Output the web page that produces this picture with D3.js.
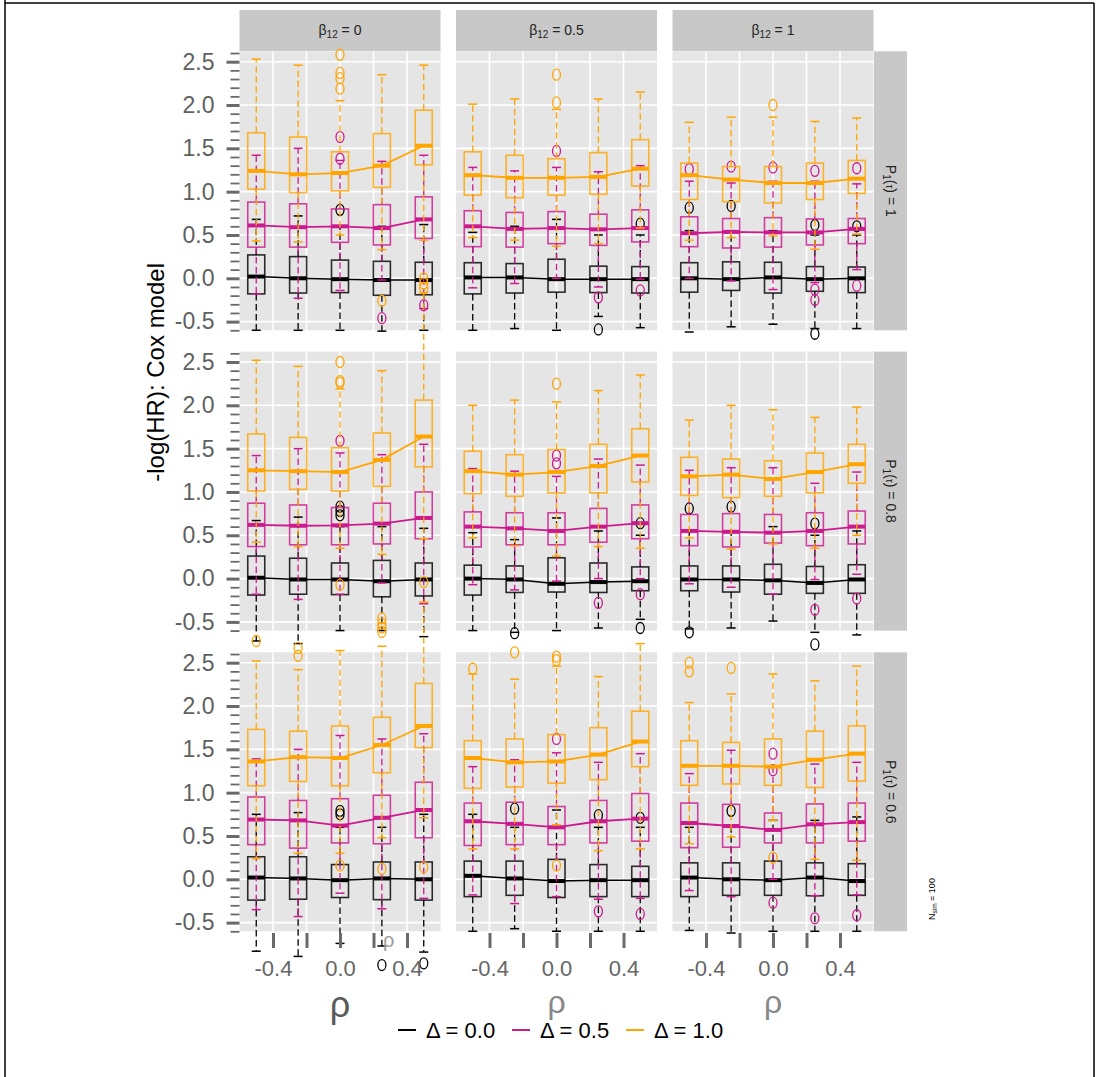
<!DOCTYPE html>
<html><head><meta charset="utf-8">
<script src="https://cdn.jsdelivr.net/npm/d3@7/dist/d3.min.js"></script>
<style>body{margin:0;background:#fff}</style>
</head><body>
<svg id="chart" width="1099" height="1077" xmlns="http://www.w3.org/2000/svg"></svg>
<script>
// ---------------- data ----------------
const betaLabels = ["0", "0.5", "1"];          // columns: beta_12
const pLabels = ["1", "0.8", "0.6"];            // rows: P1(tau)
const rhoValues = [-0.5, -0.25, 0, 0.25, 0.5];
const deltaValues = [0, 0.5, 1];
const deltaLabels = ["0.0", "0.5", "1.0"];
const xTickValues = [-0.4, -0.2, 0, 0.2, 0.4];
const xTickLabels = ["-0.4", "", "0.0", "", "0.4"];
const yTickValues = [-0.5, 0, 0.5, 1, 1.5, 2, 2.5];
const yTickLabels = ["-0.5", "0.0", "0.5", "1.0", "1.5", "2.0", "2.5"];
const yMinorTickValues = [-0.6,-0.4,-0.3,-0.2,-0.1,0.1,0.2,0.3,0.4,0.6,0.7,0.8,0.9,1.1,1.2,1.3,1.4,1.6,1.7,1.8,1.9,2.1,2.2,2.3,2.4,2.6];
const nSim = 100;

// box statistics: [delta, rho, lowerWhisker, Q1, median, Q3, upperWhisker]
const stats_P1_b0 = [
  [0,-0.5,-0.6,-0.18,0.02,0.27,0.68],[0,-0.25,-0.6,-0.17,0.0,0.25,0.72],[0,0,-0.6,-0.165,-0.01,0.21,0.6],[0,0.25,-0.61,-0.196,-0.02,0.196,0.6],[0,0.5,-0.6,-0.19,-0.02,0.185,0.62],
  [0.5,-0.5,-0.18,0.36,0.61,0.88,1.42],[0.5,-0.25,-0.23,0.36,0.59,0.86,1.5],[0.5,0,-0.14,0.415,0.6,0.8,1.36],[0.5,0.25,-0.02,0.385,0.58,0.85,1.35],[0.5,0.5,-0.35,0.46,0.68,0.94,1.42],
  [1,-0.5,0.43,1.03,1.24,1.68,2.53],[1,-0.25,0.42,0.99,1.2,1.63,2.46],[1,0,0.5,1.01,1.215,1.46,2.05],[1,0.25,0.33,1.05,1.3,1.67,2.35],[1,0.5,0.44,1.31,1.53,1.94,2.46]
];
const stats_P1_b05 = [
  [0,-0.5,-0.6,-0.18,0.01,0.18,0.53],[0,-0.25,-0.58,-0.17,0.01,0.17,0.6],[0,0,-0.6,-0.16,-0.01,0.22,0.68],[0,0.25,-0.44,-0.165,-0.01,0.14,0.5],[0,0.5,-0.57,-0.17,-0.01,0.135,0.5],
  [0.5,-0.5,-0.11,0.365,0.6,0.78,1.28],[0.5,-0.25,-0.06,0.36,0.57,0.76,1.24],[0.5,0,0.0,0.4,0.58,0.77,1.28],[0.5,0.25,-0.1,0.38,0.565,0.74,1.23],[0.5,0.5,-0.01,0.42,0.58,0.79,1.3],
  [1,-0.5,0.47,0.96,1.19,1.46,2.01],[1,-0.25,0.44,0.93,1.16,1.42,2.07],[1,0,0.37,0.96,1.16,1.38,1.95],[1,0.25,0.4,0.97,1.17,1.45,2.07],[1,0.5,0.58,1.065,1.265,1.6,2.15]
];
const stats_P1_b1 = [
  [0,-0.5,-0.62,-0.16,0.0,0.18,0.55],[0,-0.25,-0.56,-0.14,-0.01,0.19,0.55],[0,0,-0.53,-0.17,0.01,0.185,0.55],[0,0.25,-0.58,-0.15,-0.01,0.135,0.5],[0,0.5,-0.58,-0.165,0.0,0.13,0.5],
  [0.5,-0.5,0.0,0.365,0.52,0.71,1.12],[0.5,-0.25,-0.03,0.35,0.535,0.69,1.1],[0.5,0,-0.13,0.36,0.53,0.7,1.12],[0.5,0.25,-0.05,0.385,0.53,0.685,1.12],[0.5,0.5,0.1,0.4,0.57,0.69,1.09],
  [1,-0.5,0.44,0.91,1.19,1.33,1.8],[1,-0.25,0.47,0.885,1.14,1.29,1.86],[1,0,0.49,0.87,1.1,1.29,1.86],[1,0.25,0.335,0.91,1.1,1.33,1.81],[1,0.5,0.51,0.98,1.15,1.36,1.85]
];
const stats_P08_b0 = [
  [0,-0.5,-0.72,-0.19,0.01,0.26,0.67],[0,-0.25,-0.75,-0.18,-0.01,0.235,0.71],[0,0,-0.6,-0.185,-0.01,0.18,0.6],[0,0.25,-0.6,-0.21,-0.03,0.21,0.6],[0,0.5,-0.67,-0.2,-0.01,0.18,0.58],
  [0.5,-0.5,-0.18,0.37,0.62,0.87,1.42],[0.5,-0.25,-0.24,0.39,0.61,0.85,1.5],[0.5,0,-0.18,0.39,0.615,0.82,1.45],[0.5,0.25,-0.05,0.4,0.635,0.87,1.43],[0.5,0.5,-0.29,0.46,0.7,1.0,1.55],
  [1,-0.5,0.42,1.01,1.25,1.67,2.52],[1,-0.25,0.37,1.03,1.24,1.63,2.45],[1,0,0.35,1.01,1.23,1.51,2.19],[1,0.25,0.28,1.065,1.37,1.68,2.4],[1,0.5,0.46,1.29,1.64,2.06,3.3]
];
const stats_P08_b05 = [
  [0,-0.5,-0.6,-0.19,0.0,0.155,0.53],[0,-0.25,-0.62,-0.16,-0.01,0.146,0.45],[0,0,-0.6,-0.155,-0.06,0.24,0.7],[0,0.25,-0.57,-0.16,-0.04,0.18,0.55],[0,0.5,-0.47,-0.14,-0.03,0.135,0.5],
  [0.5,-0.5,-0.07,0.365,0.6,0.77,1.27],[0.5,-0.25,-0.13,0.39,0.58,0.76,1.24],[0.5,0,-0.03,0.39,0.55,0.76,1.18],[0.5,0.25,0.0,0.42,0.6,0.81,1.38],[0.5,0.5,0.0,0.46,0.64,0.85,1.31],
  [1,-0.5,0.47,0.98,1.24,1.47,2.0],[1,-0.25,0.38,0.95,1.2,1.43,2.06],[1,0,0.26,0.99,1.23,1.49,2.04],[1,0.25,0.37,0.99,1.3,1.55,2.17],[1,0.5,0.35,1.115,1.42,1.73,2.35]
];
const stats_P08_b1 = [
  [0,-0.5,-0.58,-0.14,-0.01,0.146,0.55],[0,-0.25,-0.57,-0.155,-0.01,0.146,0.55],[0,0,-0.49,-0.18,-0.02,0.165,0.6],[0,0.25,-0.62,-0.17,-0.05,0.14,0.5],[0,0.5,-0.65,-0.17,-0.01,0.16,0.55],
  [0.5,-0.5,-0.06,0.38,0.55,0.74,1.25],[0.5,-0.25,-0.1,0.365,0.54,0.75,1.28],[0.5,0,-0.18,0.41,0.53,0.74,1.28],[0.5,0.25,-0.01,0.38,0.55,0.76,1.1],[0.5,0.5,0.05,0.4,0.6,0.78,1.23],
  [1,-0.5,0.47,0.96,1.18,1.4,1.83],[1,-0.25,0.34,0.935,1.2,1.38,2.0],[1,0,0.4,0.95,1.15,1.36,1.95],[1,0.25,0.35,0.99,1.23,1.45,1.86],[1,0.5,0.5,1.1,1.32,1.55,1.98]
];
const stats_P06_b0 = [
  [0,-0.5,-0.83,-0.24,0.02,0.26,0.75],[0,-0.25,-0.89,-0.23,0.01,0.26,0.77],[0,0,-0.74,-0.21,-0.01,0.17,0.6],[0,0.25,-0.77,-0.235,0.01,0.2,0.6],[0,0.5,-0.84,-0.24,0.0,0.2,0.75],
  [0.5,-0.5,-0.35,0.4,0.69,0.95,1.39],[0.5,-0.25,-0.43,0.36,0.68,0.91,1.5],[0.5,0,-0.16,0.42,0.62,0.93,1.66],[0.5,0.25,-0.34,0.41,0.71,0.97,1.62],[0.5,0.5,-0.22,0.48,0.8,1.12,1.68],
  [1,-0.5,0.24,1.08,1.36,1.73,2.52],[1,-0.25,0.3,1.13,1.41,1.71,2.42],[1,0,0.3,1.08,1.4,1.77,2.64],[1,0.25,0.48,1.23,1.55,1.87,2.69],[1,0.5,0.71,1.52,1.77,2.26,3.2]
];
const stats_P06_b05 = [
  [0,-0.5,-0.6,-0.2,0.04,0.21,0.75],[0,-0.25,-0.57,-0.185,0.01,0.21,0.6],[0,0,-0.6,-0.21,-0.02,0.23,0.8],[0,0.25,-0.6,-0.2,-0.01,0.17,0.6],[0,0.5,-0.6,-0.2,-0.01,0.15,0.6],
  [0.5,-0.5,-0.18,0.39,0.67,0.88,1.3],[0.5,-0.25,-0.28,0.4,0.64,0.89,1.38],[0.5,0,-0.2,0.4,0.6,0.84,1.46],[0.5,0.25,-0.23,0.42,0.67,0.91,1.35],[0.5,0.5,-0.22,0.44,0.7,0.99,1.45],
  [1,-0.5,0.35,1.05,1.4,1.6,2.37],[1,-0.25,0.35,1.065,1.35,1.62,2.31],[1,0,0.63,1.11,1.36,1.67,2.46],[1,0.25,0.33,1.15,1.44,1.75,2.34],[1,0.5,0.35,1.3,1.59,1.94,2.72]
];
const stats_P06_b1 = [
  [0,-0.5,-0.59,-0.2,0.02,0.19,0.6],[0,-0.25,-0.62,-0.185,0.0,0.19,0.6],[0,0,-0.6,-0.185,-0.01,0.21,0.68],[0,0.25,-0.6,-0.19,0.02,0.19,0.68],[0,0.5,-0.6,-0.185,-0.02,0.18,0.72],
  [0.5,-0.5,-0.13,0.365,0.65,0.88,1.22],[0.5,-0.25,-0.2,0.37,0.615,0.865,1.49],[0.5,0,0.0,0.42,0.57,0.765,1.31],[0.5,0.25,-0.19,0.42,0.635,0.87,1.33],[0.5,0.5,-0.18,0.44,0.66,0.88,1.35],
  [1,-0.5,0.41,1.085,1.31,1.6,2.04],[1,-0.25,0.49,1.1,1.31,1.58,2.14],[1,0,0.68,1.085,1.3,1.62,2.37],[1,0.25,0.23,1.06,1.38,1.71,2.29],[1,0.5,0.22,1.135,1.45,1.77,2.46]
];

// outliers: [delta, rho, value]
const out_P1_b0 = [[0,0,0.79],[0.5,0,1.63],[0.5,0,1.38],[0.5,0.25,-0.46],[0.5,0.5,-0.31],[1,0,2.58],[1,0,2.37],[1,0,2.31],[1,0,2.19],[1,0.25,-0.26],[1,0.5,0.0],[1,0.5,-0.06],[1,0.5,-0.115]];
const out_P1_b05 = [[0,0.25,-0.59],[0,0.5,0.63],[0.5,0,1.47],[0.5,0.25,-0.22],[0.5,0.5,-0.14],[1,0,2.35],[1,0,2.03]];
const out_P1_b1 = [[0,-0.5,0.815],[0,-0.25,0.835],[0,0.25,0.615],[0,0.25,-0.64],[0,0.5,0.6],[0.5,-0.5,1.26],[0.5,-0.25,1.29],[0.5,0,1.28],[0.5,0.25,1.24],[0.5,0.25,-0.13],[0.5,0.25,-0.25],[0.5,0.5,1.27],[0.5,0.5,-0.085],[1,0,2.0]];
const out_P08_b0 = [[0,0,0.83],[0,0,0.78],[0,0,0.73],[0.5,0,1.59],[1,-0.5,-0.72],[1,0,2.5],[1,0,2.28],[1,0,2.26],[1,0,-0.07],[1,0.25,-0.46],[1,0.25,-0.52],[1,0.25,-0.565],[1,0.25,-0.615],[1,0.5,-0.04]];
const out_P08_b05 = [[0,-0.25,-0.63],[0,0.5,0.64],[0,0.5,-0.57],[0.5,0,1.42],[0.5,0,1.33],[0.5,0.25,-0.28],[0.5,0.5,-0.18],[1,0,2.25]];
const out_P08_b1 = [[0,-0.5,0.81],[0,-0.5,-0.62],[0,-0.25,0.83],[0,0.25,0.635],[0,0.25,-0.76],[0.5,0.25,-0.36],[0.5,0.5,-0.23]];
const out_P06_b0 = [[0,0,0.79],[0,0,0.75],[0,0.25,-0.99],[0,0.5,-0.97],[1,-0.25,2.67],[1,-0.25,2.58],[1,0,0.16],[1,0.25,0.12],[1,0.5,0.14]];
const out_P06_b05 = [[0,-0.25,0.815],[0,0.25,0.74],[0,0.5,0.71],[0.5,0,1.62],[0.5,0.25,-0.37],[0.5,0.5,-0.4],[1,-0.5,2.43],[1,-0.25,2.62],[1,0,2.57],[1,0,2.53],[1,0,0.16]];
const out_P06_b1 = [[0,-0.25,0.79],[0.5,0,1.45],[0.5,0,1.26],[0.5,0,-0.27],[0.5,0.25,-0.45],[0.5,0.5,-0.415],[1,-0.5,2.5],[1,-0.5,2.4],[1,-0.25,2.44],[1,0,0.25]];

const panels = [
  {row:0,col:0,stats:stats_P1_b0,out:out_P1_b0},{row:0,col:1,stats:stats_P1_b05,out:out_P1_b05},{row:0,col:2,stats:stats_P1_b1,out:out_P1_b1},
  {row:1,col:0,stats:stats_P08_b0,out:out_P08_b0},{row:1,col:1,stats:stats_P08_b05,out:out_P08_b05},{row:1,col:2,stats:stats_P08_b1,out:out_P08_b1},
  {row:2,col:0,stats:stats_P06_b0,out:out_P06_b0},{row:2,col:1,stats:stats_P06_b05,out:out_P06_b05},{row:2,col:2,stats:stats_P06_b1,out:out_P06_b1}
];

// ---------------- layout / style ----------------
const deltaColors = ["#000000", "#cc1a8e", "#ffa500"];
const NARROW = "'Liberation Sans Narrow','Arial Narrow','Nimbus Sans Narrow',sans-serif";
const colLeft = [239.5, 456, 672.5];
const panelW = 201;
const rowZero = [278.3, 578.6, 879.3];
const unitPx = 86.64;
const yDomain = [-0.6, 2.62];
const boxW = 17;

const svg = d3.select("#chart");
svg.append("rect").attr("width",1099).attr("height",1077).attr("fill","#fff");

function xScale(c){ return d3.scaleLinear().domain([-0.6,0.6]).range([colLeft[c], colLeft[c]+panelW]); }
function yScale(r){ return d3.scaleLinear().domain(yDomain).range([rowZero[r]-yDomain[0]*unitPx, rowZero[r]-yDomain[1]*unitPx]); }

// panel backgrounds + grid
panels.forEach(p => {
  const x = xScale(p.col), y = yScale(p.row);
  const g = svg.append("g");
  g.append("rect").attr("x",x.range()[0]).attr("y",y.range()[1]).attr("width",panelW)
    .attr("height",y.range()[0]-y.range()[1]).attr("fill","#e5e5e5");
  g.selectAll("line.hg").data(yTickValues).join("line")
    .attr("x1",x.range()[0]).attr("x2",x.range()[1]).attr("y1",d=>y(d)).attr("y2",d=>y(d))
    .attr("stroke","#fff").attr("stroke-width",1.6);
  g.selectAll("line.vg").data(xTickValues).join("line")
    .attr("y1",y.range()[0]).attr("y2",y.range()[1]).attr("x1",d=>x(d)).attr("x2",d=>x(d))
    .attr("stroke","#fff").attr("stroke-width",1.6);
});

// top strips
betaLabels.forEach((b,c) => {
  svg.append("rect").attr("x",colLeft[c]).attr("y",10).attr("width",panelW).attr("height",41).attr("fill","#c8c8c8");
  const t = svg.append("text").attr("x",colLeft[c]+panelW/2).attr("y",35).attr("text-anchor","middle")
    .attr("font-family",NARROW).attr("font-size",14).attr("fill","#222");
  t.append("tspan").text("β");
  t.append("tspan").attr("font-size",10).attr("dy",3).text("12");
  t.append("tspan").attr("dy",-3).text(" = " + b);
});
// right strips
pLabels.forEach((pl,r) => {
  const y = yScale(r);
  const top = y.range()[1], bot = y.range()[0];
  svg.append("rect").attr("x",874).attr("y",top).attr("width",33).attr("height",bot-top).attr("fill","#c8c8c8");
  const t = svg.append("text").attr("transform",`translate(886,${(top+bot)/2}) rotate(90)`)
    .attr("text-anchor","middle").attr("font-family",NARROW).attr("font-size",14).attr("fill","#222");
  t.append("tspan").text("P");
  t.append("tspan").attr("font-size",10).attr("dy",3).text("1");
  t.append("tspan").attr("dy",-3).text("(");
  t.append("tspan").attr("font-size",10).text("τ");
  t.append("tspan").text(") = " + pl);
});

// boxplots
panels.forEach(p => {
  const x = xScale(p.col), y = yScale(p.row);
  const g = svg.append("g");
  deltaValues.forEach((dv,di) => {
    const col = deltaColors[di];
    const rows = p.stats.filter(s => s[0] === dv);
    const gd = g.append("g");
    gd.selectAll("line.wu").data(rows).join("line")
      .attr("x1",s=>x(s[1])).attr("x2",s=>x(s[1])).attr("y1",s=>y(s[5])).attr("y2",s=>y(s[6]))
      .attr("stroke",col).attr("stroke-width",1.3).attr("stroke-dasharray","6.5,3.5");
    gd.selectAll("line.wl").data(rows).join("line")
      .attr("x1",s=>x(s[1])).attr("x2",s=>x(s[1])).attr("y1",s=>y(s[3])).attr("y2",s=>y(s[2]))
      .attr("stroke",col).attr("stroke-width",1.3).attr("stroke-dasharray","6.5,3.5");
    [2,6].forEach(k => {
      gd.selectAll("line.cap"+k).data(rows).join("line")
        .attr("x1",s=>x(s[1])-4.5).attr("x2",s=>x(s[1])+4.5).attr("y1",s=>y(s[k])).attr("y2",s=>y(s[k]))
        .attr("stroke",col).attr("stroke-width",1.5);
    });
    gd.selectAll("rect.box").data(rows).join("rect")
      .attr("x",s=>x(s[1])-boxW/2).attr("width",boxW)
      .attr("y",s=>y(s[5])).attr("height",s=>y(s[3])-y(s[5]))
      .attr("fill","none").attr("stroke",col).attr("stroke-width",1.6).attr("stroke-opacity",0.82);
    gd.selectAll("line.med").data(rows).join("line")
      .attr("x1",s=>x(s[1])-boxW/2).attr("x2",s=>x(s[1])+boxW/2).attr("y1",s=>y(s[4])).attr("y2",s=>y(s[4]))
      .attr("stroke",col).attr("stroke-width",4);
    gd.append("path").datum(rows)
      .attr("d",d3.line().x(s=>x(s[1])).y(s=>y(s[4])))
      .attr("fill","none").attr("stroke",col).attr("stroke-width",di===0?1.5:1.8);
    gd.selectAll("ellipse").data(p.out.filter(o=>o[0]===dv)).join("ellipse")
      .attr("cx",o=>x(o[1])).attr("cy",o=>y(o[2])).attr("rx",4).attr("ry",5.5)
      .attr("fill","none").attr("stroke",col).attr("stroke-width",1.3);
  });
});

// y axes (left column only)
pLabels.forEach((pl,r) => {
  const y = yScale(r);
  const gMin = svg.append("g").attr("transform",`translate(${colLeft[0]},0)`)
    .call(d3.axisLeft(y).tickValues(yMinorTickValues).tickSize(9).tickFormat(""));
  gMin.select(".domain").remove();
  gMin.selectAll("line").attr("stroke","#6a6a6a").attr("stroke-width",1.8);
  const gMaj = svg.append("g").attr("transform",`translate(${colLeft[0]},0)`)
    .call(d3.axisLeft(y).tickValues(yTickValues).tickSize(13).tickPadding(12)
      .tickFormat(d => yTickLabels[yTickValues.indexOf(d)]));
  gMaj.select(".domain").remove();
  gMaj.selectAll("line").attr("stroke","#6a6a6a").attr("stroke-width",3);
  gMaj.selectAll("text").attr("font-family",NARROW).attr("font-size",23).attr("fill","#5f5f5f");
});

// x axes (bottom row)
betaLabels.forEach((b,c) => {
  const x = xScale(c);
  const gx = svg.append("g").attr("transform",`translate(0,933)`)
    .call(d3.axisBottom(x).tickValues(xTickValues).tickSize(15).tickPadding(12)
      .tickFormat(d => xTickLabels[xTickValues.indexOf(d)]));
  gx.select(".domain").remove();
  gx.selectAll("line").attr("stroke","#6a6a6a").attr("stroke-width",3);
  gx.selectAll("text").attr("font-family",NARROW).attr("font-size",22).attr("fill","#666").attr("dy","0.71em");
  svg.append("text").attr("x",x(0)).attr("y",c===0?1017:1013).attr("text-anchor","middle")
    .attr("font-family",NARROW).attr("font-size",c===0?36:32).attr("fill",c===0?"#5a5a5a":"#888").text("ρ");
});
// stray small rho in the first column
svg.append("text").attr("x",xScale(0)(0.29)).attr("y",947).attr("text-anchor","middle")
  .attr("font-family",NARROW).attr("font-size",20).attr("fill","#9a9a9a").text("ρ");

// y title
svg.append("text").attr("transform","translate(164,263) rotate(-90)").attr("text-anchor","end")
  .attr("font-family","'Liberation Sans',Arial,sans-serif").attr("font-size",24).attr("fill","#000")
  .text("-log(HR): Cox model");

// legend
const legX = [398, 512, 626];
deltaLabels.forEach((dl,i) => {
  svg.append("line").attr("x1",legX[i]).attr("x2",legX[i]+18).attr("y1",1030).attr("y2",1030)
    .attr("stroke",deltaColors[i]).attr("stroke-width",2);
  svg.append("text").attr("x",legX[i]+28).attr("y",1038).attr("font-family",NARROW).attr("font-size",22)
    .attr("fill","#000").text("Δ = " + dl);
});

// N_sim note
const ns = svg.append("text").attr("transform","translate(935,920) rotate(-90)")
  .attr("font-family",NARROW).attr("font-size",9).attr("fill","#000");
ns.append("tspan").text("N");
ns.append("tspan").attr("font-size",6.5).attr("dy",2).text("sim");
ns.append("tspan").attr("dy",-2).text(" = " + nSim);

// outer frame
svg.append("line").attr("x1",5).attr("x2",5).attr("y1",0).attr("y2",1077).attr("stroke","#000").attr("stroke-width",1.5);
svg.append("line").attr("x1",5).attr("x2",1094).attr("y1",3).attr("y2",3).attr("stroke","#000").attr("stroke-width",1.5);
svg.append("line").attr("x1",1094).attr("x2",1094).attr("y1",3).attr("y2",1077).attr("stroke","#000").attr("stroke-width",1.5);
</script>
</body></html>
